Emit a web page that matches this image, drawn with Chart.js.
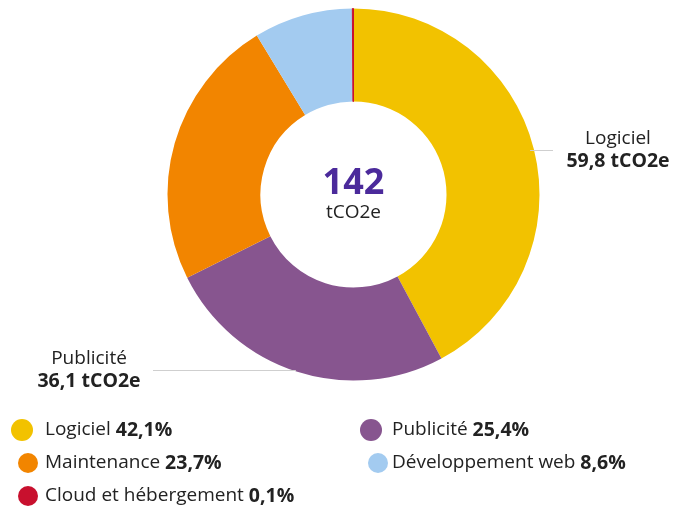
<!DOCTYPE html>
<html>
<head>
<meta charset="utf-8">
<script src="https://cdn.jsdelivr.net/npm/chart.js@4.4.1/dist/chart.umd.min.js"></script>
<style>
  html, body { margin: 0; padding: 0; background: #fff; }
  #wrap { width: 675px; height: 507px; position: relative; }
</style>
</head>
<body>
<div id="wrap"><canvas id="co2Chart" width="675" height="507"></canvas></div>
<script>
// categories in drawing order (clockwise from top)
const categories = ['Logiciel', 'Publicité', 'Maintenance', 'Développement web', 'Cloud et hébergement'];
const values = [59.8, 36.1, 33.6, 12.2, 0.14];           // tCO2e
const percents = ['42,1%', '25,4%', '23,7%', '8,6%', '0,1%'];
const valueLabels = ['59,8 tCO2e', '36,1 tCO2e', '', '', ''];
const colors = ['#f2c200', '#87558f', '#f28500', '#a3cbf0', '#c8102e'];
const totalLabel = '142';
const unitLabel = 'tCO2e';

const FONT = '"Open Sans", Lato, sans-serif';
const REG = '19px ' + FONT;
const BOLD = 'bold 19.5px ' + FONT;

// legend order (two columns, like the original)
const legendOrder = [0, 1, 2, 3, 4];
const legendPos = [
  { x: 22, y: 430, r: 11, tx: 45 },
  { x: 371, y: 430, r: 11, tx: 392 },
  { x: 28, y: 463, r: 10, tx: 45 },
  { x: 378, y: 463, r: 10, tx: 392 },
  { x: 28, y: 496, r: 10, tx: 45 }
];

// text + leader lines drawn after the slices
const annotations = {
  id: 'annotations',
  afterDraw(chart) {
    const ctx = chart.ctx;
    const arc0 = chart.getDatasetMeta(0).data[0];
    const cx = arc0.x, cy = arc0.y, R = arc0.outerRadius;
    ctx.save();

    // center total
    ctx.textAlign = 'center';
    ctx.textBaseline = 'middle';
    ctx.fillStyle = '#4b2a9b';
    ctx.font = 'bold 36px ' + FONT;
    ctx.fillText(totalLabel, cx, cy - 11);
    ctx.fillStyle = '#222';
    ctx.font = REG;
    ctx.fillText(unitLabel, cx, cy + 18);

    // leader lines
    ctx.strokeStyle = '#cfcfcf';
    ctx.lineWidth = 1;
    // Logiciel (right)
    let y = 150;
    ctx.beginPath();
    ctx.moveTo(cx + Math.sqrt(R * R - (y - cy) * (y - cy)) - 4, y + 0.5);
    ctx.lineTo(553, y + 0.5);
    ctx.stroke();
    // Publicité (left)
    y = 370;
    ctx.beginPath();
    ctx.moveTo(153, y + 0.5);
    ctx.lineTo(cx - Math.sqrt(R * R - (y - cy) * (y - cy)) + 4, y + 0.5);
    ctx.stroke();

    // outer labels
    ctx.fillStyle = '#222';
    ctx.font = REG;
    ctx.fillText(categories[0], 618, 139);
    ctx.fillText(categories[1], 89, 359);
    ctx.font = BOLD;
    ctx.fillText(valueLabels[0], 618, 161);
    ctx.fillText(valueLabels[1], 89, 381);

    // legend
    ctx.textAlign = 'left';
    legendOrder.forEach((idx, i) => {
      const p = legendPos[i];
      ctx.fillStyle = colors[idx];
      ctx.beginPath();
      ctx.arc(p.x, p.y, p.r, 0, Math.PI * 2);
      ctx.fill();
      ctx.fillStyle = '#222';
      ctx.font = REG;
      const name = categories[idx] + ' ';
      ctx.fillText(name, p.tx, p.y);
      const w = ctx.measureText(name).width;
      ctx.font = BOLD;
      ctx.fillText(percents[idx], p.tx + w, p.y);
    });
    ctx.restore();
  }
};

new Chart(document.getElementById('co2Chart').getContext('2d'), {
  type: 'doughnut',
  data: {
    labels: categories,
    datasets: [{
      data: values,
      backgroundColor: colors,
      borderColor: colors,
      borderWidth: [0, 0, 0, 0, 1]
    }]
  },
  options: {
    responsive: false,
    animation: false,
    cutout: '50%',
    layout: { padding: { left: 166, right: 134, top: 8, bottom: 126 } },
    plugins: {
      legend: { display: false },
      tooltip: { enabled: false }
    }
  },
  plugins: [annotations]
});
</script>
</body>
</html>
